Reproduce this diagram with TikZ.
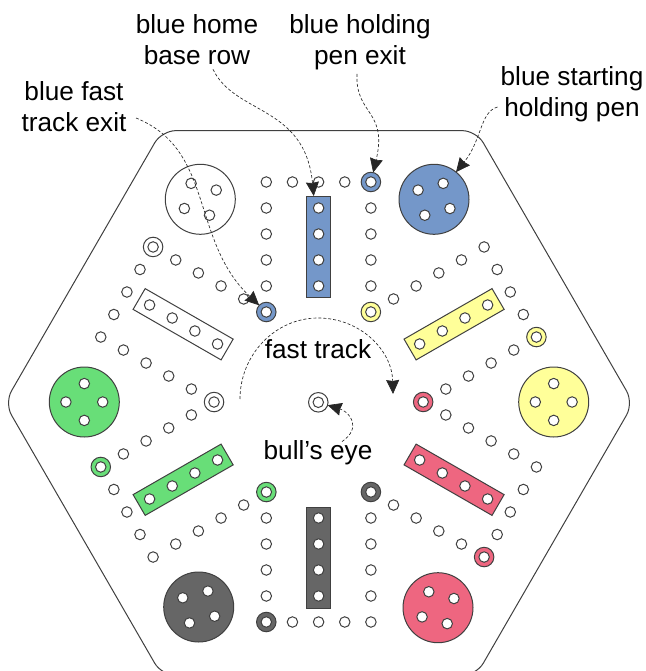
\documentclass[tikz,border=0pt]{standalone}
\usepackage{fontspec}
\setmainfont{Liberation Sans}
\usetikzlibrary{arrows.meta}

\definecolor{boardblue}{RGB}{116,151,201}
\definecolor{boardyellow}{RGB}{255,255,153}
\definecolor{boardred}{RGB}{238,102,128}
\definecolor{boardgray}{RGB}{102,102,102}
\definecolor{boardgreen}{RGB}{104,222,120}
\definecolor{boardline}{RGB}{64,64,64}

\begin{document}
\begin{tikzpicture}[
		x=1pt,y=-1pt,
		hole/.style={circle,draw=boardline,line width=1pt,fill=white,inner sep=0pt,outer sep=0pt,minimum size=10.5pt},
		ring/.style={circle,draw=boardline,line width=1pt,fill=#1,inner sep=0pt,outer sep=0pt,minimum size=19.5pt},
		holdpen/.style={circle,draw=boardline,line width=1pt,fill=#1,inner sep=0pt,outer sep=0pt,minimum size=70pt},
		homebar/.style={draw=boardline,line width=1pt,fill=#1,inner sep=0pt,outer sep=0pt,transform shape,minimum width=24pt,minimum height=101pt},
		tag/.style={align=center,inner sep=0pt,font=\fontsize{26.2}{31}\selectfont},
		callout/.style={-{Stealth[length=14pt,width=13pt,inset=1pt]},line width=0.65pt,dash pattern=on 3pt off 2pt,draw=black!85},
]

\def\midX{318.6}
\def\midY{402}
\def\colX{52}
\def\topY{-220}
\def\exitY{-90}
\def\penH{18.4}

\useasboundingbox (0,0) rectangle (645,671);

\newcommand*{\boardsector}[4]{%
	% #1 = number
	% #2 = colour
	% #3, #4 = centre of the pen
	\begin{scope}[shift={(\midX,\midY)},xscale=1.006,rotate=-60*#1]
		\node [homebar=#2] (bar#1) at (0,-155.5) {};
		\foreach \y in {-194,-168,-142,-116} {
			\node [hole] at (0,\y) {};
			\node [hole] at (-\colX,\y) {};
			\node [hole] at (\colX,\y) {};
		}
		\foreach \x in {-52,-26,0,26} {
			\node [hole] at (\x,\topY) {};
		}
		\node [ring=#2] (hold#1) at (\colX,\topY) {};
		\node [hole] at (\colX,\topY) {};
		\node [ring=#2] (fast#1) at (-\colX,\exitY) {};
		\node [hole] at (-\colX,\exitY) {};
	\end{scope}
	\begin{scope}[shift={(#3,#4)},rotate=-60*#1]
		\node [holdpen=#2] (pen#1) at (0,0) {};
		\foreach \a in {30,120,210,300} {
			\node [hole] at (\a:\penH) {};
		}
	\end{scope}
}

\draw [boardline,line width=1pt,rounded corners=14pt,shift={(319,403)}]
	(0:314.5) -- (60:314.5) -- (120:314.5) -- (180:314.5) -- (240:314.5) -- (300:314.5) -- cycle;

\foreach \col/\penx/\peny [count=\n from 0] in {boardblue/434/199.3,boardyellow/553.7/402,boardred/438/607.7,boardgray/198.7/607,boardgreen/84.3/402,white/200.3/199.3} {
	\boardsector{\n}{\col}{\penx}{\peny}
}

\node [ring=white] (bull) at (318.3,402.3) {};
\node [hole] at (318.3,402.3) {};

\node [tag] (exitlabel) at (74,107) {blue fast\\track exit};
\node [tag] (homelabel) at (197,40) {blue home\\base row};
\node [tag] (holdlabel) at (360,42) {blue holding\\pen exit};
\node [tag] (startlabel) at (572,94) {blue starting\\holding pen};
\node [tag] (tracklabel) at (318,349) {fast track};
\node [tag] (bulllabel) at (318,453) {bull’s eye};

\coordinate (trackstart) at (240,399);
\coordinate (trackend) at (393,394);

\draw [callout] ([shift={(62,11)}]exitlabel.center) .. controls (215,150) and (190,240) .. (fast0);
\draw [callout] ([shift={(16,4)}]homelabel.south) .. controls (235,115) and (305,105) .. (bar0);
\draw [callout] ([shift={(-3,4)}]holdlabel.south) .. controls (355,115) and (388,110) .. (hold0);
\draw [callout] ([shift={(-3,13)}]startlabel.west) .. controls (480,112) and (482,140) .. (pen0);
\draw [callout] (trackstart) .. controls (240,355) and (275,318) .. (318,318) .. controls (360,318) and (392,350) .. (trackend);
\draw [callout] ([shift={(24,1)}]bulllabel.north) .. controls (362,428) and (350,412) .. (bull);

\end{tikzpicture}
\end{document}
